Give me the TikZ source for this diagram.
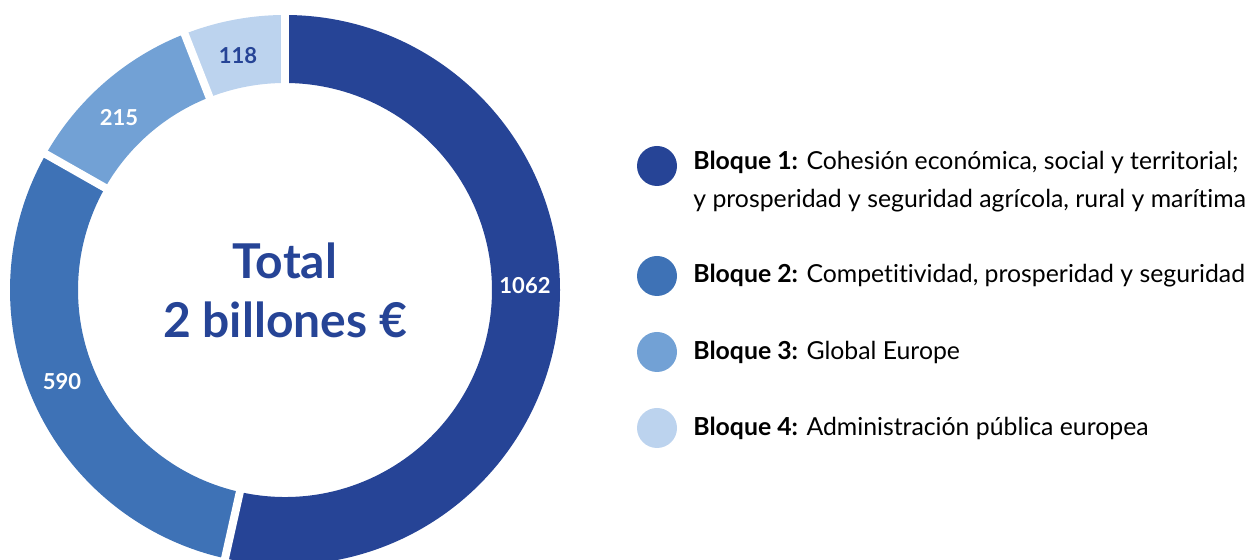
\documentclass[tikz,border=0pt]{standalone}
\usepackage{fontspec}
\setmainfont{Lato}[Ligatures=NoCommon]
\usetikzlibrary{calc, positioning}
\definecolor{bloqueA}{HTML}{264496}
\definecolor{bloqueB}{HTML}{3E72B6}
\definecolor{bloqueC}{HTML}{72A1D5}
\definecolor{bloqueD}{HTML}{BCD3EE}
\begin{document}
\begin{tikzpicture}[x=0.5pt, y=0.5pt,
    seglabel/.style={font=\bfseries\fontsize{11}{12}\selectfont, text=white},
    legdot/.style={circle, inner sep=0pt, minimum size=20pt},
    legtext/.style={anchor=west, align=left, inner sep=0pt, font=\fontsize{12.4}{19}\selectfont}]
  \useasboundingbox (0,0) rectangle (1253,-560);
  \coordinate (c) at (285,-290);

  % ring segments
  \foreach \a/\b/\col in {90/-102.6/bloqueA, -102.6/-209.6/bloqueB, 150.4/111.4/bloqueC, 111.4/90/bloqueD}
    \fill[\col] ($(c)+(\a:275)$) arc[start angle=\a, end angle=\b, radius=275]
      -- ($(c)+(\b:207)$) arc[start angle=\b, end angle=\a, radius=207] -- cycle;
  \foreach \a in {90, -102.6, 150.4, 111.4}
    \draw[white, line width=4pt] (c) -- ++(\a:290);

  \node[seglabel] (v1) at (525,-286) {1062};
  \node[seglabel] (v2) at (62,-382) {590};
  \node[seglabel] (v3) at (119,-118) {215};
  \node[seglabel, text=bloqueA] (v4) at (238,-56) {118};

  \node[align=center, text=bloqueA, font=\bfseries\fontsize{24}{29.5}\selectfont] (total) at (c) {Total\\2 billones €};

  % legend
  \node[legdot, fill=bloqueA] (d1) at (657,-166) {};
  \node[legdot, fill=bloqueB] (d2) at (657,-276) {};
  \node[legdot, fill=bloqueC] (d3) at (657,-352) {};
  \node[legdot, fill=bloqueD] (d4) at (657,-428) {};
  \node[legtext] (t1) at (693,-182) {\textbf{Bloque 1:} Cohesión económica, social y territorial;\\y prosperidad y seguridad agrícola, rural y marítima};
  \node[legtext] (t2) at (693,-276) {\textbf{Bloque 2:} Competitividad, prosperidad y seguridad};
  \node[legtext] (t3) at (693,-352) {\textbf{Bloque 3:} Global Europe};
  \node[legtext] (t4) at (693,-428) {\textbf{Bloque 4:} Administración pública europea};
\end{tikzpicture}
\end{document}
